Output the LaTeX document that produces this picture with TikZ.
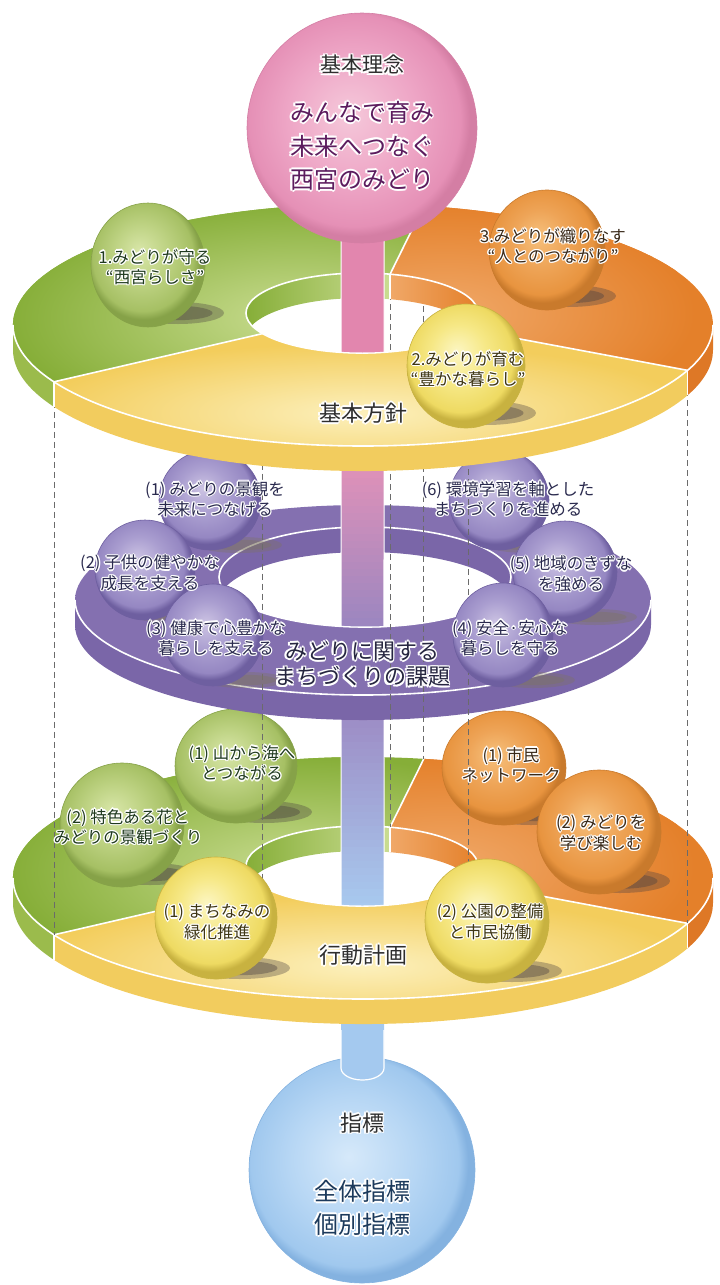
\documentclass[tikz,border=0pt]{standalone}
\usepackage{fontspec}
\setmainfont{Noto Sans CJK JP}
\newlength\hw
\setlength\hw{1.3pt}
\newcommand\halo[1]{%
  \setbox0=\hbox{#1}%
  \leavevmode
  \rlap{\color{white}\kern\hw\copy0}%
  \rlap{\color{white}\kern-\hw\copy0}%
  \rlap{\color{white}\raise\hw\copy0}%
  \rlap{\color{white}\lower\hw\copy0}%
  \rlap{\color{white}\kern.7\hw\raise.7\hw\copy0}%
  \rlap{\color{white}\kern-.7\hw\raise.7\hw\copy0}%
  \rlap{\color{white}\kern.7\hw\lower.7\hw\copy0}%
  \rlap{\color{white}\kern-.7\hw\lower.7\hw\copy0}%
  \box0}
% ring colours
\definecolor{gD}{HTML}{86AE38}
\definecolor{gL}{HTML}{CADD92}
\definecolor{gS}{HTML}{9BBB4C}
\definecolor{yD}{HTML}{F3CD5C}
\definecolor{yL}{HTML}{FCF0BC}
\definecolor{yS}{HTML}{F2CC5E}
\definecolor{ySL}{HTML}{FAE8A4}
\definecolor{oD}{HTML}{E4802A}
\definecolor{oL}{HTML}{F0A868}
\definecolor{oS}{HTML}{DE7826}
\definecolor{pD}{HTML}{8470B0}
\definecolor{pM}{HTML}{A595CC}
\definecolor{pS}{HTML}{7A66A8}
\definecolor{pSL}{HTML}{B0A2D2}
% ball colours
\definecolor{bgL}{HTML}{D8E6A8}
\definecolor{bgM}{HTML}{BDD282}
\definecolor{bgD}{HTML}{A6C064}
\definecolor{bgE}{HTML}{86A248}
\definecolor{boL}{HTML}{F6C07C}
\definecolor{boM}{HTML}{EEA457}
\definecolor{boD}{HTML}{E8943F}
\definecolor{boE}{HTML}{C97A2C}
\definecolor{byL}{HTML}{FCF6C2}
\definecolor{byM}{HTML}{F6E886}
\definecolor{byD}{HTML}{EEDA62}
\definecolor{byE}{HTML}{C8B240}
\definecolor{bpL}{HTML}{CCC3E3}
\definecolor{bpM}{HTML}{AA9ED0}
\definecolor{bpD}{HTML}{9587C2}
\definecolor{bpE}{HTML}{6E5FA0}
\definecolor{ckL}{HTML}{F5C8DA}
\definecolor{ckM}{HTML}{EEA6C6}
\definecolor{ckD}{HTML}{E590B6}
\definecolor{ckE}{HTML}{D47EA4}
\definecolor{cbL}{HTML}{D6E9FA}
\definecolor{cbM}{HTML}{B6D6F4}
\definecolor{cbD}{HTML}{A0C8EE}
\definecolor{cbE}{HTML}{84B2E0}
% poles
\definecolor{pkA}{HTML}{E286AE}
\definecolor{pkAL}{HTML}{F5CCDD}
\definecolor{pkB}{HTML}{E592B8}
\definecolor{pvB}{HTML}{9A86C0}
\definecolor{pvC}{HTML}{9C88C2}
\definecolor{blC}{HTML}{A8CBF0}
\definecolor{blD}{HTML}{A4C9EF}
\definecolor{blDL}{HTML}{E2EEFA}
% misc
\definecolor{shD}{HTML}{4A4040}
\definecolor{shP}{HTML}{7D7460}
\definecolor{tG}{HTML}{1F3A1E}
\definecolor{tO}{HTML}{3A2A1A}
\definecolor{tY}{HTML}{3E3614}
\definecolor{tP}{HTML}{2A2A4E}
\definecolor{tPT}{HTML}{262640}
\definecolor{tT}{HTML}{2E2E2E}
\definecolor{tK}{HTML}{5C1C5E}
\definecolor{tB}{HTML}{1C3A5C}
\definecolor{dsh}{HTML}{6B6B6B}
\pgfdeclareradialshading{ballG}{\pgfpoint{-4bp}{6bp}}{color(0bp)=(bgL); color(12bp)=(bgM); color(22bp)=(bgD); color(25bp)=(bgE); color(50bp)=(bgE)}
\pgfdeclareradialshading{ballO}{\pgfpoint{-4bp}{6bp}}{color(0bp)=(boL); color(12bp)=(boM); color(22bp)=(boD); color(25bp)=(boE); color(50bp)=(boE)}
\pgfdeclareradialshading{ballY}{\pgfpoint{-4bp}{6bp}}{color(0bp)=(byL); color(12bp)=(byM); color(22bp)=(byD); color(25bp)=(byE); color(50bp)=(byE)}
\pgfdeclareradialshading{ballP}{\pgfpoint{-4bp}{6bp}}{color(0bp)=(bpL); color(12bp)=(bpM); color(22bp)=(bpD); color(25bp)=(bpE); color(50bp)=(bpE)}
\pgfdeclareradialshading{ballK}{\pgfpoint{-3bp}{3bp}}{color(0bp)=(ckL); color(14bp)=(ckM); color(23bp)=(ckD); color(25bp)=(ckE); color(50bp)=(ckE)}
\pgfdeclareradialshading{ballB}{\pgfpoint{-3bp}{3bp}}{color(0bp)=(cbL); color(14bp)=(cbM); color(23bp)=(cbD); color(25bp)=(cbE); color(50bp)=(cbE)}
\tikzset{
  lab/.style={font=\fontsize{16.5}{20.5}\selectfont, align=center, inner sep=0pt},
  ttl/.style={font=\fontsize{22}{25.5}\selectfont\setlength\hw{1.8pt}, align=center, inner sep=0pt},
  dashline/.style={draw=dsh, dash pattern=on 6pt off 4pt, line width=0.9pt},
  wl/.style={draw=white, line width=1.6pt},
}
\newcommand\Ysec{({363+350*cos(22)},{12+121*sin(22)}) arc[start angle=22,end angle=152,x radius=350,y radius=121] -- ({362+116*cos(149)},{40*sin(149)}) arc[start angle=149,end angle=24,x radius=116,y radius=40] -- cycle}
\newcommand\Gsec{({363+350*cos(152)},{12+121*sin(152)}) arc[start angle=152,end angle=280,x radius=350,y radius=121] -- ({362+116*cos(284)},{40*sin(284)}) arc[start angle=284,end angle=149,x radius=116,y radius=40] -- cycle}
\newcommand\Osec{({363+350*cos(280)},{12+121*sin(280)}) arc[start angle=280,end angle=382,x radius=350,y radius=121] -- ({362+116*cos(24)},{40*sin(24)}) arc[start angle=384,end angle=284,x radius=116,y radius=40] -- cycle}
\newcommand\sectorring[1]{%
\begin{scope}[shift={(0,#1)}]
\fill[gS] ({363+350*cos(152)},{12+121*sin(152)}) arc[start angle=152,end angle=180,x radius=350,y radius=121] -- ++(0,25) arc[start angle=180,end angle=152,x radius=350,y radius=121] -- cycle;
\shade[left color=yS, middle color=ySL, right color=yS] ({363+350*cos(22)},{12+121*sin(22)}) arc[start angle=22,end angle=152,x radius=350,y radius=121] -- ++(0,25) arc[start angle=152,end angle=22,x radius=350,y radius=121] -- cycle;
\fill[oS] (713,12) arc[start angle=0,end angle=22,x radius=350,y radius=121] -- ++(0,25) arc[start angle=22,end angle=0,x radius=350,y radius=121] -- cycle;
\begin{scope}
\clip (362,0) ellipse [x radius=116,y radius=40];
\shade[left color=gD, right color=gL] (246,0) arc[start angle=180,end angle=284,x radius=116,y radius=40] -- ++(0,25) arc[start angle=284,end angle=180,x radius=116,y radius=40] -- cycle;
\shade[left color=oL, right color=oD] ({362+116*cos(284)},{40*sin(284)}) arc[start angle=284,end angle=360,x radius=116,y radius=40] -- ++(0,25) arc[start angle=360,end angle=284,x radius=116,y radius=40] -- cycle;
\draw[white,line width=1.2pt] ({362+116*cos(284)},{40*sin(284)}) -- ++(0,25);
\end{scope}
\fill[gD] \Gsec;
\begin{scope}\clip \Gsec; \shade[inner color=gL, outer color=gD] (300,5) ellipse [x radius=290,y radius=115]; \end{scope}
\fill[oD] \Osec;
\begin{scope}\clip \Osec; \shade[inner color=oL, outer color=oD] (445,0) ellipse [x radius=250,y radius=110]; \end{scope}
\fill[yD] \Ysec;
\begin{scope}\clip \Ysec; \shade[inner color=yL, outer color=yD] (363,100) ellipse [x radius=330,y radius=70]; \end{scope}
\draw[wl] (713,12) arc[start angle=0,end angle=180,x radius=350,y radius=121];
\draw[wl] (362,0) ellipse [x radius=116,y radius=40];
\draw[wl] ({363+350*cos(22)},{12+121*sin(22)}) -- ({362+116*cos(24)},{40*sin(24)});
\draw[wl] ({363+350*cos(152)},{12+121*sin(152)}) -- ({362+116*cos(149)},{40*sin(149)});
\draw[wl] ({363+350*cos(280)},{12+121*sin(280)}) -- ({362+116*cos(284)},{40*sin(284)});
\draw[wl] ({363+350*cos(22)},{12+121*sin(22)}) -- ++(0,25);
\draw[wl] ({363+350*cos(152)},{12+121*sin(152)}) -- ++(0,25);
\end{scope}}
\newcommand\ball[6]{%
  \shade[shading=#1] (#3,#4) ellipse [x radius=#5, y radius=#6];
  \draw[#2, line width=0.6pt] (#3,#4) ellipse [x radius=#5, y radius=#6];}
\newcommand\shadowe[5]{%
  \fill[#1, opacity=0.35] (#2,#3) ellipse [x radius=#4, y radius=#5];
  \fill[#1, opacity=0.4] (#2,#3) ellipse [x radius={0.75*#4}, y radius={0.65*#5}];}
\begin{document}
\begin{tikzpicture}[x=1pt,y=-1pt]
\useasboundingbox (0,0) rectangle (720,1285);
% dashed line end points
\coordinate (Tgyo) at ({363+350*cos(152)},{325+121*sin(152)});
\coordinate (Toyo) at ({363+350*cos(22)},{325+121*sin(22)});
\coordinate (Tgoo) at ({363+350*cos(280)},{325+121*sin(280)});
\coordinate (Tgyi) at ({362+116*cos(149)},{313+40*sin(149)});
\coordinate (Toyi) at ({362+116*cos(24)},{313+40*sin(24)});
\coordinate (Tgoi) at ({362+116*cos(284)},{313+40*sin(284)});
\coordinate (Bgyo) at ({363+350*cos(152)},{878+121*sin(152)});
\coordinate (Boyo) at ({363+350*cos(22)},{878+121*sin(22)});
\coordinate (Bgoo) at ({363+350*cos(280)},{878+121*sin(280)});
\coordinate (Bgyi) at ({362+116*cos(149)},{866+40*sin(149)});
\coordinate (Boyi) at ({362+116*cos(24)},{866+40*sin(24)});
\coordinate (Bgoi) at ({362+116*cos(284)},{866+40*sin(284)});

% ===== bottom circle =====
\shade[shading=ballB] (362,1170) circle [radius=113];
\draw[cbE, line width=0.6pt] (362,1170) circle [radius=113];
% pole D
\shade[left color=blD, middle color=blDL, right color=blD] (341,985) -- (341,1068) arc[start angle=180,end angle=0,x radius=21.5,y radius=12] -- (384,985) -- cycle;
\draw[white, line width=1.2pt] (341,1030) -- (341,1068) arc[start angle=180,end angle=0,x radius=21.5,y radius=12] -- (384,1030);

% ===== bottom ring =====
\sectorring{866}

% pole C
\begin{scope}
\clip (341,700) -- (341,{866+40*sin(acos(-21/116))}) arc[start angle={acos(-21/116)},end angle={acos(22/116)},x radius=116,y radius=40] -- (384,700) -- cycle;
\foreach \i in {0,...,30} {
  \pgfmathtruncatemacro\pc{100-3.34*\i}
  \colorlet{bc}{pvC!\pc!blC}
  \shade[left color=bc, middle color=bc!40!white, right color=bc] (341,{700+7*\i}) rectangle (384,{707.8+7*\i});
}
\end{scope}
\draw[white, line width=1pt] (341,715) -- (341,{866+40*sin(acos(-21/116))}) arc[start angle={acos(-21/116)},end angle={acos(22/116)},x radius=116,y radius=40] -- (384,715);

% bottom ring back balls
\shadowe{shD}{264}{812}{48}{11}
\ball{ballG}{bgE}{236}{766}{61}{57}
\shadowe{shD}{531}{814}{48}{11}
\ball{ballO}{boE}{504}{768}{62}{57}
\shadowe{shD}{150}{874}{48}{11}
\ball{ballG}{bgE}{122}{825}{62}{62}
\shadowe{shD}{620}{881}{50}{12}
\ball{ballO}{boE}{599}{832}{62}{62}

% ===== purple ring =====
\shade[left color=pS, middle color=pSL, right color=pS] (651,600) arc[start angle=0,end angle=180,x radius=288,y radius=95] -- ++(0,25) arc[start angle=180,end angle=0,x radius=288,y radius=95] -- cycle;
\begin{scope}
\clip (365,577) ellipse [x radius=146,y radius=50];
\shade[left color=pS, middle color=pSL, right color=pS] (219,577) arc[start angle=180,end angle=360,x radius=146,y radius=50] -- ++(0,25) arc[start angle=360,end angle=180,x radius=146,y radius=50] -- cycle;
\end{scope}
\shade[even odd rule, left color=pD, middle color=pM, right color=pD] (363,600) ellipse [x radius=288,y radius=95] (365,577) ellipse [x radius=146,y radius=50];
\draw[wl] (651,600) arc[start angle=0,end angle=180,x radius=288,y radius=95];
\draw[wl] (365,577) ellipse [x radius=146,y radius=50];

% pole B
\begin{scope}
\clip (341,450) -- (341,{577+50*sin(acos(-24/146))}) arc[start angle={acos(-24/146)},end angle={acos(19/146)},x radius=146,y radius=50] -- (384,450) -- cycle;
\foreach \i in {0,...,25} {
  \pgfmathtruncatemacro\pc{100-4*\i}
  \colorlet{bc}{pkB!\pc!pvB}
  \shade[left color=bc, middle color=bc!40!white, right color=bc] (341,{450+7*\i}) rectangle (384,{457.8+7*\i});
}
\end{scope}
\draw[white, line width=1pt] (341,470) -- (341,{577+50*sin(acos(-24/146))}) arc[start angle={acos(-24/146)},end angle={acos(19/146)},x radius=146,y radius=50] -- (384,470);

% purple back balls
\shadowe{shP}{240}{545}{42}{8}
\ball{ballP}{bpE}{210}{500}{51}{50}
\shadowe{shP}{529}{545}{42}{8}
\ball{ballP}{bpE}{499}{500}{50}{50}
\shadowe{shP}{175}{615}{42}{8}
\ball{ballP}{bpE}{145}{570}{50}{50}
\shadowe{shP}{595}{617}{42}{8}
\ball{ballP}{bpE}{565}{572}{52}{51}

% dashed guide lines
\draw[dashline] (Tgyo) -- (Bgyo);
\draw[dashline] (Toyo) -- (Boyo);
\draw[dashline] (Tgoo) -- (Bgoo);
\draw[dashline] (Tgyi) -- (Bgyi);
\draw[dashline] (Toyi) -- (Boyi);
\draw[dashline] (Tgoi) -- (Bgoi);

% purple front balls
\shadowe{shP}{245}{680}{42}{8}
\ball{ballP}{bpE}{213}{635}{50}{51}
\shadowe{shP}{533}{680}{42}{8}
\ball{ballP}{bpE}{503}{635}{50}{52}

% bottom ring front balls
\shadowe{shD}{240}{968}{50}{11}
\ball{ballY}{byE}{216}{918}{61}{61}
\shadowe{shD}{512}{971}{50}{11}
\ball{ballY}{byE}{487}{921}{62}{62}

% texts: purple ring
\node[lab, text=tP] (p1) at (215,499) {\halo{(1) みどりの景観を}\\\halo{未来につなげる}};
\node[lab, text=tP] (p2) at (150,573) {\halo{(2) 子供の健やかな}\\\halo{成長を支える}};
\node[lab, text=tP] (p3) at (216,638) {\halo{(3) 健康で心豊かな}\\\halo{暮らしを支える}};
\node[lab, text=tP] (p4) at (510,638) {\halo{(4) 安全·安心な}\\\halo{暮らしを守る}};
\node[lab, text=tP] (p5) at (571,574) {\halo{(5) 地域のきずな}\\\halo{を強める}};
\node[lab, text=tP] (p6) at (508,499) {\halo{(6) 環境学習を軸とした}\\\halo{まちづくりを進める}};
\node[ttl, text=tPT] (kadai) at (362,664) {\halo{みどりに関する}\\\halo{まちづくりの課題}};
% texts: bottom ring
\node[lab, text=tG] (a1) at (242,763) {\halo{(1) 山から海へ}\\\halo{とつながる}};
\node[lab, text=tG] (a2) at (128,827) {\halo{(2) 特色ある花と}\\\halo{みどりの景観づくり}};
\node[lab, text=tY] (a3) at (217,922) {\halo{(1) まちなみの}\\\halo{緑化推進}};
\node[lab, text=tO] (a4) at (511,765) {\halo{(1) 市民}\\\halo{ネットワーク}};
\node[lab, text=tO] (a5) at (601,833) {\halo{(2) みどりを}\\\halo{学び楽しむ}};
\node[lab, text=tY] (a6) at (490,922) {\halo{(2) 公園の整備}\\\halo{と市民協働}};
\node[ttl, text=tT] (koudou) at (363,955) {\halo{行動計画}};

% ===== top ring =====
\sectorring{313}

% pole A
\shade[left color=pkA, middle color=pkAL, right color=pkA] (341,225) -- (341,{313+40*sin(acos(-21/116))}) arc[start angle={acos(-21/116)},end angle={acos(22/116)},x radius=116,y radius=40] -- (384,225) -- cycle;
\draw[white, line width=1pt] (341,225) -- (341,{313+40*sin(acos(-21/116))}) arc[start angle={acos(-21/116)},end angle={acos(22/116)},x radius=116,y radius=40] -- (384,225);

% pink circle
\shade[shading=ballK] (362,128) circle [radius=115];
\draw[ckE, line width=0.6pt] (362,128) circle [radius=115];

% top ring balls
\shadowe{shD}{178}{313}{46}{11}
\ball{ballG}{bgE}{148}{265}{57}{62}
\shadowe{shD}{568}{296}{48}{11}
\ball{ballO}{boE}{547}{250}{58}{60}
\shadowe{shD}{486}{413}{50}{12}
\ball{ballY}{byE}{466}{366}{59}{62}

\node[lab, text=tG] (tA) at (155,267) {\halo{1.みどりが守る}\\\halo{“西宮らしさ”}};
\node[lab, text=tO] (tC) at (553,246) {\halo{3.みどりが織りなす}\\\halo{“人とのつながり”}};
\node[lab, text=tY] (tB) at (468,369) {\halo{2.みどりが育む}\\\halo{“豊かな暮らし”}};
\node[ttl, text=tT] (kihon) at (363,413) {\halo{基本方針}};

% circle texts
\node[font=\fontsize{21}{24}\selectfont\setlength\hw{1.6pt}, text=tT, inner sep=0pt] (rinen) at (362,65) {\halo{基本理念}};
\node[font=\fontsize{24}{33.5}\selectfont\setlength\hw{1.8pt}, align=center, text=tK, inner sep=0pt] (phrase) at (362,146) {\halo{みんなで育み}\\\halo{未来へつなぐ}\\\halo{西宮のみどり}};
\node[font=\fontsize{22}{25}\selectfont\setlength\hw{1.6pt}, text=tT, inner sep=0pt] (shihyo) at (362,1123) {\halo{指標}};
\node[font=\fontsize{24}{33}\selectfont\setlength\hw{1.8pt}, align=center, text=tB, inner sep=0pt] (shihyo2) at (362,1208) {\halo{全体指標}\\\halo{個別指標}};
\end{tikzpicture}
\end{document}
